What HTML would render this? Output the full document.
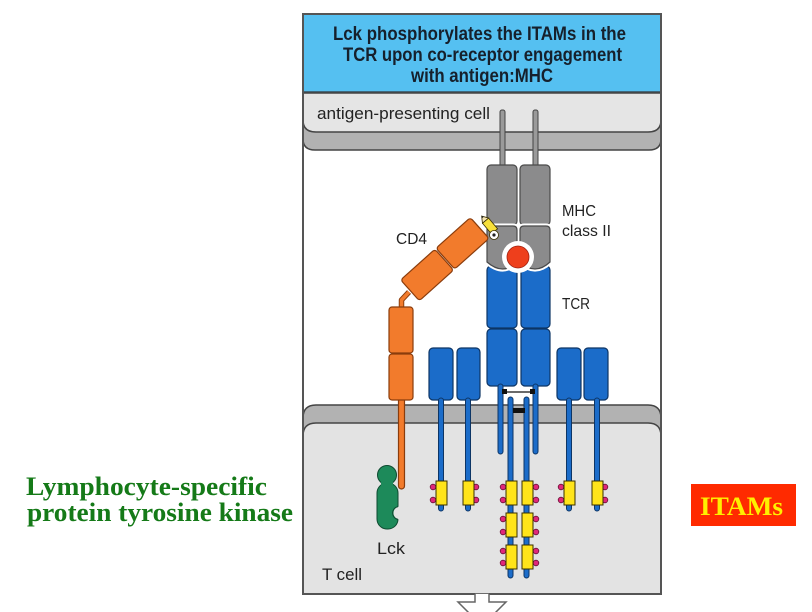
<!DOCTYPE html>
<html>
<head>
<meta charset="utf-8">
<style>
html,body{margin:0;padding:0;background:#fff;}
svg{display:block;}
text{font-family:"Liberation Sans",sans-serif;}
text.serif,.serif text{font-family:"Liberation Serif",serif;font-weight:bold;}
</style>
</head>
<body>
<svg width="812" height="612" viewBox="0 0 812 612" xmlns="http://www.w3.org/2000/svg">
  <rect x="0" y="0" width="812" height="612" fill="#fff"/>

  <!-- Frame background -->
  <rect x="303" y="14" width="358" height="580" fill="#fff"/>

  <!-- Header -->
  <rect x="303" y="14" width="358" height="78" fill="#55c0f1"/>
  <line x1="303" y1="92" x2="661" y2="92" stroke="#3a4a55" stroke-width="1.5"/>
  <g font-weight="bold" font-size="19" fill="#16202c">
    <text x="333" y="40" textLength="293" lengthAdjust="spacingAndGlyphs">Lck phosphorylates the ITAMs in the</text>
    <text x="343" y="61" textLength="279" lengthAdjust="spacingAndGlyphs">TCR upon co-receptor engagement</text>
    <text x="411" y="82" textLength="142" lengthAdjust="spacingAndGlyphs">with antigen:MHC</text>
  </g>

  <!-- APC -->
  <path d="M303,118 V139 Q303,150 315,150 H649 Q661,150 661,139 V118 Z" fill="#b2b2b2" stroke="#444" stroke-width="1.5"/>
  <path d="M303,93 V120 Q303,132 316,132 H648 Q661,132 661,120 V93 Z" fill="#e5e5e5" stroke="#444" stroke-width="1.5"/>
  <text x="317" y="119" font-size="17" fill="#222" textLength="173" lengthAdjust="spacingAndGlyphs">antigen-presenting cell</text>

  <!-- T cell -->
  <path d="M303,418 Q303,405 316,405 H648 Q661,405 661,418 V432 H303 Z" fill="#b2b2b2" stroke="#444" stroke-width="1.5"/>
  <path d="M303,436 Q303,423 316,423 H648 Q661,423 661,436 V594 H303 Z" fill="#e3e3e3" stroke="#444" stroke-width="1.5"/>
  <text x="322" y="580" font-size="17" fill="#222" textLength="40" lengthAdjust="spacingAndGlyphs">T cell</text>

  <!-- MHC stalks -->
  <rect x="500" y="110" width="5" height="60" rx="2" fill="#9a9a9a" stroke="#444" stroke-width="1"/>
  <rect x="533" y="110" width="5" height="60" rx="2" fill="#9a9a9a" stroke="#444" stroke-width="1"/>

  <!-- TCR blue domains -->
  <g fill="#1b6cc9" stroke="#0d3565" stroke-width="1.2">
    <rect x="487" y="266" width="30" height="62" rx="4"/>
    <rect x="521" y="266" width="29" height="62" rx="4"/>
    <rect x="487" y="329" width="30" height="57" rx="4"/>
    <rect x="521" y="329" width="29" height="57" rx="4"/>
    <!-- CD3 side boxes -->
    <rect x="429" y="348" width="24" height="52" rx="4"/>
    <rect x="457" y="348" width="23" height="52" rx="4"/>
    <rect x="557" y="348" width="24" height="52" rx="4"/>
    <rect x="584" y="348" width="24" height="52" rx="4"/>
  </g>

  <!-- MHC gray domains -->
  <g fill="#8b8b8c" stroke="#4a4a4a" stroke-width="1.2">
    <rect x="487" y="165" width="30" height="60" rx="4"/>
    <rect x="520" y="165" width="30" height="60" rx="4"/>
  </g>
  <g>
    <path d="M491,226 H513 Q517,226 517,230 V262 Q503,276 487,262 V230 Q487,226 491,226 Z" fill="none" stroke="#fff" stroke-width="5"/>
    <path d="M524,226 H546 Q550,226 550,230 V262 Q535,276 520,262 V230 Q520,226 524,226 Z" fill="none" stroke="#fff" stroke-width="5"/>
    <path d="M491,226 H513 Q517,226 517,230 V262 Q503,276 487,262 V230 Q487,226 491,226 Z" fill="#8b8b8c" stroke="#4a4a4a" stroke-width="1.2"/>
    <path d="M524,226 H546 Q550,226 550,230 V262 Q535,276 520,262 V230 Q520,226 524,226 Z" fill="#8b8b8c" stroke="#4a4a4a" stroke-width="1.2"/>
  </g>
  <circle cx="518" cy="257" r="16" fill="#fff"/>
  <circle cx="518" cy="257" r="11" fill="#ee3f1c" stroke="#a02010" stroke-width="0.8"/>

  <!-- TCR stalks -->
  <g fill="#1b6cc9" stroke="#0d3565" stroke-width="1">
    <rect x="498" y="384" width="5" height="70" rx="2.5"/>
    <rect x="533" y="384" width="5" height="70" rx="2.5"/>
    <rect x="508" y="397" width="5" height="181" rx="2.5"/>
    <rect x="524" y="397" width="5" height="181" rx="2.5"/>
    <rect x="438.5" y="398" width="5" height="113" rx="2.5"/>
    <rect x="465.5" y="398" width="5" height="113" rx="2.5"/>
    <rect x="566.5" y="398" width="5" height="113" rx="2.5"/>
    <rect x="594.5" y="398" width="5" height="113" rx="2.5"/>
  </g>
  <!-- connector -->
  <line x1="504" y1="392" x2="533" y2="392" stroke="#111" stroke-width="1.2"/>
  <rect x="502" y="389" width="5" height="5" fill="#111"/>
  <rect x="530" y="389" width="5" height="5" fill="#111"/>
  <rect x="513" y="408" width="12" height="5" fill="#111"/>

  <!-- ITAM boxes -->
  <g fill="#e0287a" stroke="#6a0f35" stroke-width="0.8">
    <circle cx="433" cy="487" r="2.8"/><circle cx="433" cy="500" r="2.8"/>
    <circle cx="476" cy="487" r="2.8"/><circle cx="476" cy="500" r="2.8"/>
    <circle cx="503" cy="487" r="2.8"/><circle cx="503" cy="500" r="2.8"/>
    <circle cx="503" cy="519" r="2.8"/><circle cx="503" cy="532" r="2.8"/>
    <circle cx="503" cy="551" r="2.8"/><circle cx="503" cy="563" r="2.8"/>
    <circle cx="536" cy="487" r="2.8"/><circle cx="536" cy="500" r="2.8"/>
    <circle cx="536" cy="519" r="2.8"/><circle cx="536" cy="532" r="2.8"/>
    <circle cx="536" cy="551" r="2.8"/><circle cx="536" cy="563" r="2.8"/>
    <circle cx="561" cy="487" r="2.8"/><circle cx="561" cy="500" r="2.8"/>
    <circle cx="605" cy="487" r="2.8"/><circle cx="605" cy="500" r="2.8"/>
  </g>
  <g fill="#ffe41a" stroke="#3a3000" stroke-width="1">
    <rect x="436" y="481" width="11" height="24"/>
    <rect x="463" y="481" width="11" height="24"/>
    <rect x="506" y="481" width="11" height="24"/>
    <rect x="522" y="481" width="11" height="24"/>
    <rect x="506" y="513" width="11" height="24"/>
    <rect x="522" y="513" width="11" height="24"/>
    <rect x="506" y="545" width="11" height="24"/>
    <rect x="522" y="545" width="11" height="24"/>
    <rect x="564" y="481" width="11" height="24"/>
    <rect x="592" y="481" width="11" height="24"/>
  </g>

  <!-- CD4 -->
  <g fill="#f27b2c" stroke="#8a3c0c" stroke-width="1.2">
    <rect x="398.5" y="396" width="6" height="93" rx="3"/>
    <path d="M409,292 L401.5,300 V308" fill="none" stroke="#8a3c0c" stroke-width="5.5" stroke-linejoin="round"/>
    <path d="M409,292 L401.5,300 V308" fill="none" stroke="#f27b2c" stroke-width="3.5" stroke-linejoin="round"/>
    <rect x="389" y="307" width="24" height="46" rx="3"/>
    <rect x="389" y="354" width="24" height="46" rx="3"/>
    <g transform="translate(445,259) rotate(-41.8)">
      <rect x="-47" y="-14" width="46" height="28" rx="3"/>
      <rect x="0.5" y="-14" width="46" height="28" rx="3"/>
    </g>
  </g>
  <!-- pencil -->
  <g transform="translate(490,226) rotate(50)">
    <rect x="-7" y="-4" width="14" height="8" fill="#f7e03a" stroke="#3a3000" stroke-width="0.8"/>
    <path d="M-7,-4 L-13,0 L-7,4 Z" fill="#f3e3b0" stroke="#3a3000" stroke-width="0.8"/>
    <path d="M-13,0 L-11,-1.3 L-11,1.3 Z" fill="#222"/>
  </g>
  <circle cx="494" cy="235" r="4.5" fill="#fff" stroke="#3a3000" stroke-width="0.8"/>
  <circle cx="494" cy="235" r="1.6" fill="#222"/>
  <text x="396" y="244" font-size="16" fill="#222" textLength="31" lengthAdjust="spacingAndGlyphs">CD4</text>

  <!-- Lck -->
  <g fill="#1d8a5a" stroke="#0e4a30" stroke-width="1">
    <rect x="377" y="483" width="21" height="46" rx="10"/>
    <circle cx="387" cy="475" r="9.5"/>
  </g>
  <circle cx="400" cy="513" r="6.5" fill="#e3e3e3"/>
  <path d="M398,506.6 A6.5,6.5 0 0 0 398,519.4" fill="none" stroke="#0e4a30" stroke-width="1"/>
  <rect x="381" y="478" width="12" height="10" fill="#1d8a5a"/>
  <text x="377" y="554" font-size="17" fill="#222" textLength="28" lengthAdjust="spacingAndGlyphs">Lck</text>

  <!-- Labels -->
  <g font-size="16" fill="#222">
    <text x="562" y="216" textLength="34" lengthAdjust="spacingAndGlyphs">MHC</text>
    <text x="562" y="236" textLength="49" lengthAdjust="spacingAndGlyphs">class II</text>
    <text x="562" y="309" textLength="28" lengthAdjust="spacingAndGlyphs">TCR</text>
  </g>

  <!-- Frame outline -->
  <path d="M475,594 H303 V14 H661 V594 H489" fill="none" stroke="#555" stroke-width="2"/>
  <path d="M475,594 V602 H458 L482,626 L506,602 H489 V594" fill="#fff" stroke="#666" stroke-width="1.5"/>

  <!-- Left green text -->
  <text class="serif" x="26" y="495" font-size="26" fill="#157a18" textLength="241" lengthAdjust="spacingAndGlyphs">Lymphocyte-specific</text>
  <text class="serif" x="27" y="521" font-size="26" fill="#157a18" textLength="266" lengthAdjust="spacingAndGlyphs">protein tyrosine kinase</text>

  <!-- ITAMs label -->
  <rect x="691" y="484" width="105" height="42" fill="#ff2a00"/>
  <text class="serif" x="700" y="515" font-size="26" fill="#fff000" textLength="83" lengthAdjust="spacingAndGlyphs">ITAMs</text>
</svg>
</body>
</html>
